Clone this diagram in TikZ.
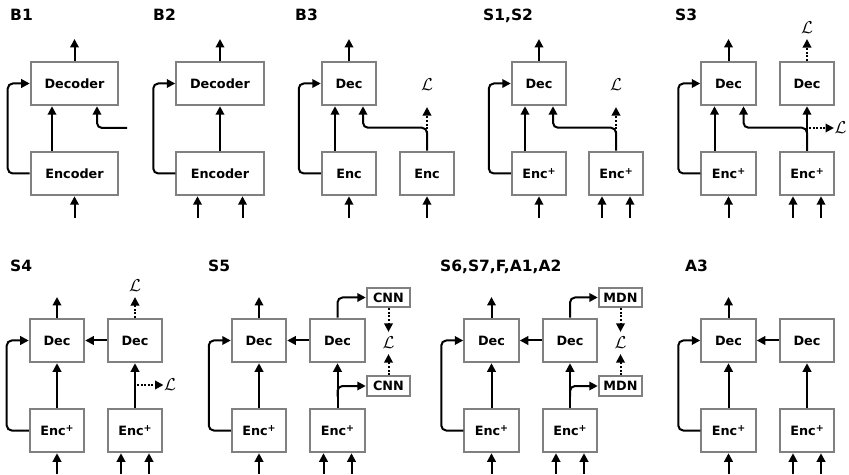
\documentclass[tikz,border=0pt]{standalone}
\usepackage{fontspec}
\setmainfont{DejaVu Sans}
\usetikzlibrary{arrows.meta}

\definecolor{boxgray}{RGB}{128,128,128}
\newcommand{\boxfont}{\fontsize{12.8bp}{15bp}\selectfont\bfseries}
\newcommand{\panelfont}{\fontsize{15.5bp}{18bp}\selectfont\bfseries}
\newcommand{\lossfont}{\fontsize{17.5bp}{19bp}\selectfont}
\newcommand{\encplus}{Enc\raisebox{0.5ex}{\fontsize{9.5bp}{10bp}\selectfont +}}

\tikzset{
    block/.style={draw=boxgray, line width=2bp, fill=white, inner sep=0pt,
        minimum height=43.5bp, font=\boxfont},
    wideblock/.style={block, minimum width=87.5bp},
    netblock/.style={block, minimum width=54.5bp},
    headblock/.style={block, minimum width=43.5bp, minimum height=19.5bp},
    flow/.style={line width=2bp, -{Triangle[length=8.5bp, width=8.5bp]}},
    turnflow/.style={flow, rounded corners=5bp},
    lossflow/.style={flow, dash pattern=on 2bp off 1.6bp},
    loss/.style={inner xsep=0.5bp, inner ysep=5bp, font=\lossfont},
    panel/.style={anchor=base west, inner sep=0pt, font=\panelfont},
}

\begin{document}
\begin{tikzpicture}[x=1bp, y=-1bp]
    % --- Canvas (pixel grid of the figure, y pointing down) ---
    \useasboundingbox (0,0) rectangle (849,475);

    % --- B1 ---
    \node[panel] (tB1) at (10,20.7) {B1};
    \node[wideblock] (decB1) at (74.5,83.5) {Decoder};
    \node[wideblock] (encB1) at (74.5,173.5) {Encoder};
    \coordinate (outB1) at (74.5,39);
    \coordinate (inB1) at (74.5,218);
    \coordinate (auxB1) at (127,128);
    \draw[flow] (decB1) -- (outB1);
    \draw[flow] (inB1) -- (encB1);
    \draw[flow] ([xshift=-22.5bp]encB1.north) -- ([xshift=-22.5bp]decB1.south);
    \draw[turnflow] (auxB1) -| ([xshift=22.5bp]decB1.south);
    \draw[turnflow] (encB1.west) -- ++(-22,0) |- (decB1.west);

    % --- B2 ---
    \node[panel] (tB2) at (153,20.7) {B2};
    \node[wideblock] (decB2) at (220,83.5) {Decoder};
    \node[wideblock] (encB2) at (220,173.5) {Encoder};
    \coordinate (outB2) at (220,39);
    \coordinate (inB2a) at (197.5,218);
    \coordinate (inB2b) at (242.5,218);
    \draw[flow] (decB2) -- (outB2);
    \draw[flow] (encB2) -- (decB2);
    \draw[flow] (inB2a) -- (inB2a |- encB2.south);
    \draw[flow] (inB2b) -- (inB2b |- encB2.south);
    \draw[turnflow] (encB2.west) -- ++(-22,0) |- (decB2.west);

    % --- B3 ---
    \node[panel] (tB3) at (295,20.7) {B3};
    \node[netblock] (decB3) at (349,83.5) {Dec};
    \node[netblock] (encB3a) at (349,173.5) {Enc};
    \node[netblock] (encB3b) at (427,173.5) {Enc};
    \node[loss] (lB3) at (427,85) {$\mathcal{L}$};
    \coordinate (outB3) at (349,39);
    \coordinate (inB3a) at (349,218);
    \coordinate (inB3b) at (427,218);
    \draw[flow] (decB3) -- (outB3);
    \draw[flow] (inB3a) -- (encB3a);
    \draw[flow] (inB3b) -- (encB3b);
    \draw[flow] ([xshift=-14bp]encB3a.north) -- ([xshift=-14bp]decB3.south);
    \draw[turnflow] (encB3b.north) -- ++(0,-23) -| ([xshift=14bp]decB3.south);
    \draw[lossflow, shorten >=11bp] ([yshift=18bp]encB3b.north) -- (lB3);
    \draw[turnflow] (encB3a.west) -- ++(-22,0) |- (decB3.west);

    % --- S1,S2 ---
    \node[panel] (tS1) at (483,20.7) {S1,S2};
    \node[netblock] (decS1) at (539,83.5) {Dec};
    \node[netblock] (encS1a) at (539,173.5) {\encplus};
    \node[netblock] (encS1b) at (616,173.5) {\encplus};
    \node[loss] (lS1) at (616,85) {$\mathcal{L}$};
    \coordinate (outS1) at (539,39);
    \coordinate (inS1a) at (539,218);
    \coordinate (inS1b) at (602,218);
    \coordinate (inS1c) at (630,218);
    \draw[flow] (decS1) -- (outS1);
    \draw[flow] (inS1a) -- (encS1a);
    \draw[flow] (inS1b) -- (inS1b |- encS1b.south);
    \draw[flow] (inS1c) -- (inS1c |- encS1b.south);
    \draw[flow] ([xshift=-14bp]encS1a.north) -- ([xshift=-14bp]decS1.south);
    \draw[turnflow] (encS1b.north) -- ++(0,-23) -| ([xshift=14bp]decS1.south);
    \draw[lossflow, shorten >=11bp] ([yshift=18bp]encS1b.north) -- (lS1);
    \draw[turnflow] (encS1a.west) -- ++(-22,0) |- (decS1.west);

    % --- S3 ---
    \node[panel] (tS3) at (675,20.7) {S3};
    \node[netblock] (decS3a) at (728.5,83.5) {Dec};
    \node[netblock] (decS3b) at (807,83.5) {Dec};
    \node[netblock] (encS3a) at (728.5,173.5) {\encplus};
    \node[netblock] (encS3b) at (807,173.5) {\encplus};
    \node[loss] (lS3a) at (807,28) {$\mathcal{L}$};
    \node[loss, anchor=west] (lS3b) at (834,128) {$\mathcal{L}$};
    \coordinate (outS3) at (728.5,39);
    \coordinate (inS3a) at (728.5,218);
    \coordinate (inS3b) at (793,218);
    \coordinate (inS3c) at (821,218);
    \draw[flow] (decS3a) -- (outS3);
    \draw[lossflow] (decS3b) -- (lS3a);
    \draw[flow] (inS3a) -- (encS3a);
    \draw[flow] (inS3b) -- (inS3b |- encS3b.south);
    \draw[flow] (inS3c) -- (inS3c |- encS3b.south);
    \draw[flow] ([xshift=-14bp]encS3a.north) -- ([xshift=-14bp]decS3a.south);
    \draw[flow] (encS3b) -- (decS3b);
    \draw[turnflow] (encS3b.north) -- ++(0,-23) -| ([xshift=15bp]decS3a.south);
    \draw[lossflow] (encS3b.north |- lS3b.west) ++(2bp,0) -- (lS3b.west);
    \draw[turnflow] (encS3a.west) -- ++(-22,0) |- (decS3a.west);

    % --- S4 ---
    \node[panel] (tS4) at (10,271.7) {S4};
    \node[netblock] (decS4a) at (57,340.5) {Dec};
    \node[netblock] (decS4b) at (135,340.5) {Dec};
    \node[netblock] (encS4a) at (57,430.5) {\encplus};
    \node[netblock] (encS4b) at (135,430.5) {\encplus};
    \node[loss] (lS4a) at (135,286) {$\mathcal{L}$};
    \node[loss, anchor=west] (lS4b) at (163.5,385) {$\mathcal{L}$};
    \coordinate (outS4) at (57,297);
    \coordinate (inS4a) at (57,474);
    \coordinate (inS4b) at (121,474);
    \coordinate (inS4c) at (149,474);
    \draw[flow] (decS4a) -- (outS4);
    \draw[lossflow] (decS4b) -- (lS4a);
    \draw[flow] (decS4b) -- (decS4a);
    \draw[flow] (encS4a) -- (decS4a);
    \draw[flow] (encS4b) -- (decS4b);
    \draw[flow] (inS4a) -- (encS4a);
    \draw[flow] (inS4b) -- (inS4b |- encS4b.south);
    \draw[flow] (inS4c) -- (inS4c |- encS4b.south);
    \draw[lossflow] (encS4b.north |- lS4b.west) ++(2bp,0) -- (lS4b.west);
    \draw[turnflow] (encS4a.west) -- ++(-22,0) |- (decS4a.west);

    % --- S5 ---
    \node[panel] (tS5) at (208,271.7) {S5};
    \node[netblock] (decS5a) at (259,340.5) {Dec};
    \node[netblock] (decS5b) at (337.5,340.5) {Dec};
    \node[netblock] (encS5a) at (259,430.5) {\encplus};
    \node[netblock] (encS5b) at (337.5,430.5) {\encplus};
    \node[headblock] (cnnS5a) at (388.5,297.5) {CNN};
    \node[headblock] (cnnS5b) at (388.5,386) {CNN};
    \node[loss] (lS5) at (388.5,343) {$\mathcal{L}$};
    \coordinate (outS5) at (259,297);
    \coordinate (inS5a) at (259,474);
    \coordinate (inS5b) at (323.5,474);
    \coordinate (inS5c) at (351.5,474);
    \draw[flow] (decS5a) -- (outS5);
    \draw[flow] (decS5b) -- (decS5a);
    \draw[flow] (encS5a) -- (decS5a);
    \draw[flow] (encS5b) -- (decS5b);
    \draw[turnflow] (decS5b.north) |- (cnnS5a.west);
    \draw[turnflow] ([yshift=11bp]encS5b.north) |- (cnnS5b.west);
    \draw[lossflow] (cnnS5a) -- (lS5);
    \draw[lossflow] (cnnS5b) -- (lS5);
    \draw[flow] (inS5a) -- (encS5a);
    \draw[flow] (inS5b) -- (inS5b |- encS5b.south);
    \draw[flow] (inS5c) -- (inS5c |- encS5b.south);
    \draw[turnflow] (encS5a.west) -- ++(-22,0) |- (decS5a.west);

    % --- S6,S7,F,A1,A2 ---
    \node[panel] (tS6) at (440,271.7) {S6,S7,F,A1,A2};
    \node[netblock] (decS6a) at (491.5,340.5) {Dec};
    \node[netblock] (decS6b) at (570,340.5) {Dec};
    \node[netblock] (encS6a) at (491.5,430.5) {\encplus};
    \node[netblock] (encS6b) at (570,430.5) {\encplus};
    \node[headblock] (mdnS6a) at (620.5,297.5) {MDN};
    \node[headblock] (mdnS6b) at (620.5,386) {MDN};
    \node[loss] (lS6) at (620.5,343) {$\mathcal{L}$};
    \coordinate (outS6) at (491.5,297);
    \coordinate (inS6a) at (491.5,474);
    \coordinate (inS6b) at (556,474);
    \coordinate (inS6c) at (584,474);
    \draw[flow] (decS6a) -- (outS6);
    \draw[flow] (decS6b) -- (decS6a);
    \draw[flow] (encS6a) -- (decS6a);
    \draw[flow] (encS6b) -- (decS6b);
    \draw[turnflow] (decS6b.north) |- (mdnS6a.west);
    \draw[turnflow] ([yshift=11bp]encS6b.north) |- (mdnS6b.west);
    \draw[lossflow] (mdnS6a) -- (lS6);
    \draw[lossflow] (mdnS6b) -- (lS6);
    \draw[flow] (inS6a) -- (encS6a);
    \draw[flow] (inS6b) -- (inS6b |- encS6b.south);
    \draw[flow] (inS6c) -- (inS6c |- encS6b.south);
    \draw[turnflow] (encS6a.west) -- ++(-22,0) |- (decS6a.west);

    % --- A3 ---
    \node[panel] (tA3) at (685,271.7) {A3};
    \node[netblock] (decA3a) at (728.5,340.5) {Dec};
    \node[netblock] (decA3b) at (807,340.5) {Dec};
    \node[netblock] (encA3a) at (728.5,430.5) {\encplus};
    \node[netblock] (encA3b) at (807,430.5) {\encplus};
    \coordinate (outA3) at (728.5,297);
    \coordinate (inA3a) at (728.5,474);
    \coordinate (inA3b) at (793,474);
    \coordinate (inA3c) at (821,474);
    \draw[flow] (decA3a) -- (outA3);
    \draw[flow] (decA3b) -- (decA3a);
    \draw[flow] (encA3a) -- (decA3a);
    \draw[flow] (encA3b) -- (decA3b);
    \draw[flow] (inA3a) -- (encA3a);
    \draw[flow] (inA3b) -- (inA3b |- encA3b.south);
    \draw[flow] (inA3c) -- (inA3c |- encA3b.south);
    \draw[turnflow] (encA3a.west) -- ++(-22,0) |- (decA3a.west);
\end{tikzpicture}
\end{document}
